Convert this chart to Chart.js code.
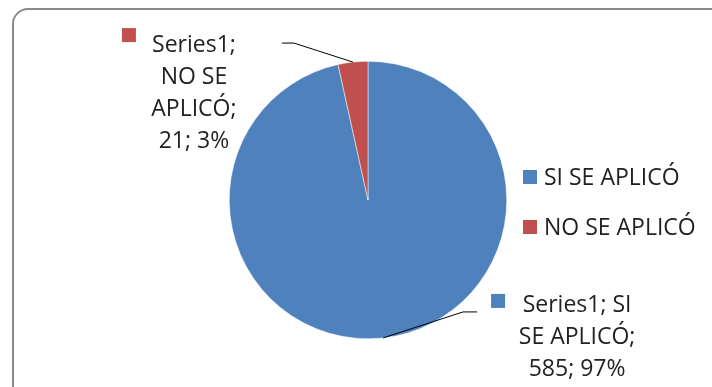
<!DOCTYPE html>
<html>
<head>
<meta charset="utf-8">
<script src="https://cdn.jsdelivr.net/npm/chart.js@4"></script>
<style>
  html, body { margin: 0; padding: 0; background: #fff; overflow: hidden; }
  #wrap { position: relative; width: 712px; height: 387px; }
  #frame {
    position: absolute; left: 12px; top: 8px; width: 740px; height: 420px;
    border: 2px solid #8a8a8a; border-radius: 16px; box-sizing: border-box;
  }
  canvas { position: absolute; left: 0; top: 0; }
</style>
</head>
<body>
<div id="wrap">
  <div id="frame"></div>
  <canvas id="pieChart" width="712" height="387"></canvas>
</div>
<script>
const categories = ['SI SE APLICÓ', 'NO SE APLICÓ'];
const seriesName = 'Series1';
const values = [585, 21];
const percentLabels = ['97%', '3%'];
const colors = ['#4F81BD', '#C0504D'];

const FONT = '23px "Open Sans"';
const TEXT_COLOR = '#222222';

// etiquetas tipo Excel con linea guia
const labelPlugin = {
  id: 'excelLabels',
  afterDatasetsDraw(chart) {
    const c = chart.ctx;
    const arcs = chart.getDatasetMeta(0).data;
    c.save();
    c.font = FONT;
    c.textBaseline = 'alphabetic';
    c.textAlign = 'center';
    c.strokeStyle = '#000';
    c.lineWidth = 1;

    // codo relativo al borde, texto y cuadro relativos al extremo de la linea
    const setups = [
      { elbow: [80, -26], end: [14, 0], lines: [seriesName + '; SI', 'SE APLICÓ;', values[0] + '; ' + percentLabels[0]], text: [100, 0], box: [14, -18] },
      { elbow: [-59, -19], end: [-12, 0], lines: [seriesName + ';', 'NO SE', 'APLICÓ;', values[1] + '; ' + percentLabels[1]], text: [-88, 9], box: [-160, -15] }
    ];

    arcs.forEach((arc, i) => {
      const p = arc.getProps(['x', 'y', 'startAngle', 'endAngle', 'outerRadius'], true);
      const mid = (p.startAngle + p.endAngle) / 2;
      const ax = p.x + Math.cos(mid) * p.outerRadius;
      const ay = p.y + Math.sin(mid) * p.outerRadius;
      const s = setups[i];
      const ex = ax + s.elbow[0], ey = ay + s.elbow[1];
      const fx = ex + s.end[0], fy = ey + s.end[1];
      c.beginPath();
      c.moveTo(ax, ay);
      c.lineTo(ex, ey);
      c.lineTo(fx, fy);
      c.stroke();

      c.fillStyle = TEXT_COLOR;
      const tx = fx + s.text[0], ty = fy + s.text[1];
      s.lines.forEach((ln, k) => c.fillText(ln, tx, ty + k * 32));
      c.fillStyle = colors[i];
      c.fillRect(fx + s.box[0], fy + s.box[1], 14, 14);
    });
    c.restore();
  }
};

// leyenda a la derecha
const legendPlugin = {
  id: 'sideLegend',
  afterDraw(chart) {
    const c = chart.ctx;
    const area = chart.chartArea;
    c.save();
    c.font = FONT;
    c.textBaseline = 'alphabetic';
    c.textAlign = 'left';
    categories.forEach((cat, i) => {
      const y = area.top + 124 + i * 50;
      const x = area.right + 16;
      c.fillStyle = colors[i];
      c.fillRect(x, y - 15, 14, 14);
      c.fillStyle = TEXT_COLOR;
      c.fillText(cat, x + 21, y);
    });
    c.restore();
  }
};

new Chart(document.getElementById('pieChart'), {
  type: 'pie',
  data: {
    labels: categories,
    datasets: [{
      label: seriesName,
      data: values,
      backgroundColor: colors,
      borderColor: '#ffffff',
      borderWidth: 0.5
    }]
  },
  options: {
    responsive: false,
    animation: false,
    layout: { padding: { left: 229, right: 205, top: 61, bottom: 48 } },
    plugins: {
      legend: { display: false },
      tooltip: { enabled: false }
    }
  },
  plugins: [labelPlugin, legendPlugin]
});
</script>
</body>
</html>
